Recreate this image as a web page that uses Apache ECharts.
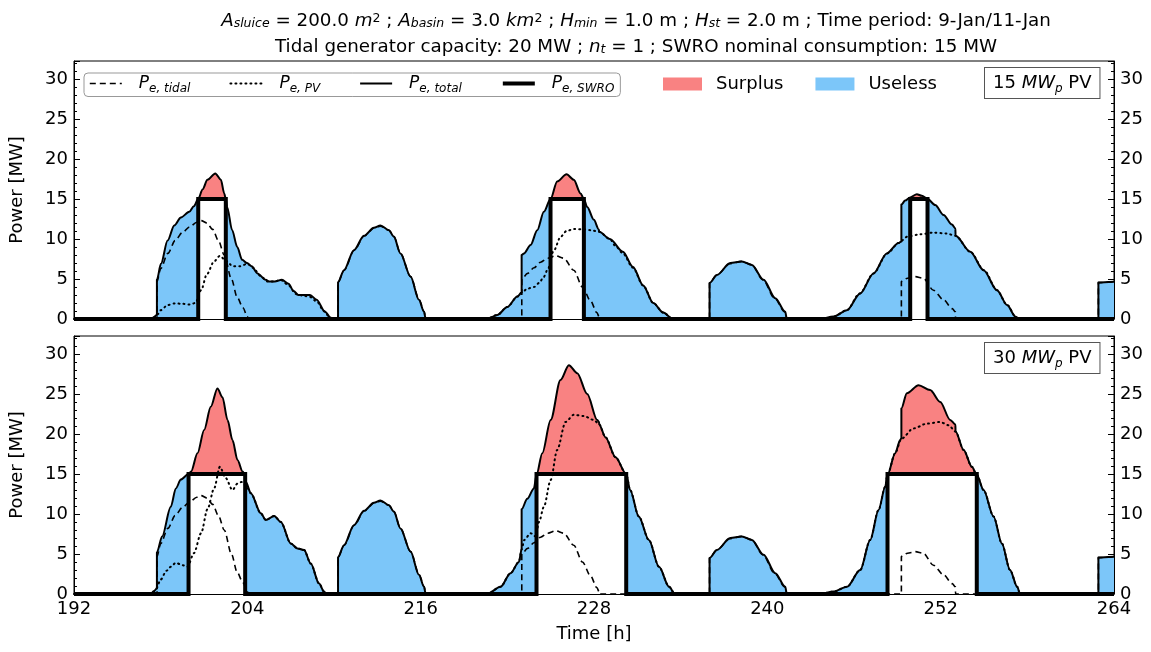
<!DOCTYPE html>
<html><head><meta charset="utf-8">
<script src="https://cdn.jsdelivr.net/npm/echarts@6/dist/echarts.min.js"></script>
<style>html,body{margin:0;padding:0;background:#fff}#c{width:1151px;height:652px}</style>
</head><body><div id="c"></div>
<script>
// ---------------- data ----------------
const xTicks = [192, 204, 216, 228, 240, 252, 264];
const swroPower = 15;
const tidal = [
[192,0],[197.75,0],[197.75,4.7],[198.0,6.3],[198.5,8.2],[199.0,9.8],[199.5,10.8],[200.0,11.5],[200.5,12.1],[200.8,12.3],[201.2,12.0],[201.6,11.2],[202.0,9.8],[202.4,8.0],[202.9,5.0],[203.3,2.7],[203.7,1.4],[204.0,0.3],[204.1,0],
[210.28,0],[210.28,4.6],[210.7,6.1],[211.4,8.6],[212.1,10.4],[212.8,11.4],[213.2,11.6],[213.8,11.1],[214.15,10.3],[214.6,8.2],[215.3,5.3],[215.9,2.4],[216.25,0.9],[216.35,0],
[223.0,0],[223.0,5.0],[223.4,5.7],[223.85,6.4],[224.3,7.1],[224.8,7.6],[225.35,7.9],[225.9,7.6],[226.6,6.1],[227.2,4.0],[227.75,2.3],[228.2,0.8],[228.35,0.3],[228.36,0],
[236.0,0],[236.0,4.5],[236.5,5.5],[237.4,6.9],[238.2,7.2],[238.9,6.8],[239.7,4.9],[240.5,2.6],[241.2,0.9],[241.35,0],
[249.28,0],[249.28,4.7],[249.7,5.1],[250.25,5.3],[250.8,5.1],[251.5,3.6],[252.2,2.4],[252.8,1.3],[253.02,0.9],[253.03,0],
[262.92,0],[262.92,4.55],[264,4.65]];
const pv15 = [
[192,0],[197.2,0],[197.5,0.2],[197.8,0.6],[198.0,1.1],[198.5,1.75],[199.0,1.95],[199.5,1.9],[200.0,1.8],[200.4,2.0],[200.8,3.6],[201.2,5.6],[201.7,7.2],[202.1,7.9],[202.5,7.3],[203.0,6.6],[203.5,6.6],[204.0,6.9],[204.4,6.4],[204.9,5.4],[205.4,4.7],[205.9,4.7],[206.3,4.9],[206.8,4.3],[207.4,3.1],[207.9,2.9],[208.3,2.8],[208.8,2.2],[209.3,1.0],[209.7,0.2],[210.0,0],
[220.5,0],[221.3,0.5],[222.0,1.5],[222.7,2.8],[223.0,3.3],[223.4,3.8],[223.85,4.0],[224.2,4.5],[224.5,5.2],[224.8,6.2],[225.2,8.5],[225.7,10.3],[226.1,11.0],[226.6,11.25],[227.3,11.2],[227.8,11.1],[228.35,10.9],[229.1,10.0],[229.5,9.1],[230.0,8.2],[230.7,6.4],[231.4,4.2],[232.1,2.0],[232.8,0.8],[233.4,0.1],[233.6,0],
[243.7,0],[244.6,0.3],[245.5,1.1],[246.4,3.2],[247.35,5.7],[248.3,8.2],[249.1,9.5],[249.28,9.8],[249.7,10.3],[250.6,10.6],[251.5,10.8],[252.4,10.7],[253.03,10.4],[254.05,8.4],[255.0,6.1],[255.9,3.6],[256.6,1.75],[257.2,0.3],[257.4,0],[264,0]];
const pv30 = [
[192,0],[197.2,0],[197.5,0.3],[197.7,0.7],[198.0,1.8],[198.4,2.9],[198.7,3.4],[199.05,3.9],[199.5,3.6],[199.86,3.4],[200.3,5.1],[200.8,7.6],[201.24,10.6],[201.7,13.2],[202.1,15.9],[202.5,14.5],[202.97,13.0],[203.32,13.8],[203.6,14.0],[203.9,13.6],[204.24,12.6],[204.93,10.1],[205.28,9.25],[205.86,9.75],[206.32,9.0],[207.01,6.3],[207.47,5.7],[207.93,5.5],[208.39,3.8],[208.97,1.3],[209.31,0.3],[209.5,0],
[220.6,0],[221.53,0.9],[222.22,2.6],[222.8,4.0],[223.0,5.6],[223.17,6.75],[223.61,7.6],[223.96,7.2],[224.19,9.0],[224.53,10.9],[225.0,14.25],[225.45,18.0],[226.03,21.5],[226.6,22.4],[227.3,22.25],[227.99,21.75],[228.36,21.2],[228.79,19.6],[229.49,17.1],[230.23,15.0],[230.5,13.0],[231.1,9.7],[231.8,6.75],[232.5,3.4],[233.2,0.9],[233.6,0],
[243.67,0],[244.59,0.3],[245.51,0.9],[246.43,3.0],[247.12,6.75],[247.7,10.5],[248.16,13.4],[248.32,14.9],[248.85,17.6],[249.28,19.4],[250.12,20.7],[251.05,21.3],[251.97,21.5],[252.55,21.1],[253.03,20.3],[253.59,18.0],[254.16,15.9],[254.5,14.9],[254.97,13.0],[255.66,9.7],[256.24,6.3],[256.8,3.0],[257.3,0.9],[257.5,0],[264,0]];
const total15 = [
[192,0],[197.3,0],[197.5,0.2],[197.74,0.5],[197.74,4.9],[198.02,6.9],[198.48,9.8],[198.94,11.7],[199.4,12.7],[199.98,13.4],[200.3,14.1],[200.6,15.0],[200.9,16.2],[201.24,17.4],[201.78,18.2],[202.17,17.4],[202.4,15.7],[202.51,15.0],[202.6,14.0],[202.95,11.1],[203.3,9.0],[203.64,7.4],[203.98,7.0],[204.3,6.6],[204.7,5.7],[205.27,4.9],[205.5,4.7],[205.9,4.7],[206.39,4.9],[206.85,4.4],[207.2,3.5],[207.53,3.0],[208.34,3.0],[208.8,2.4],[209.37,0.9],[209.84,0],
[210.28,0],[210.28,4.6],[210.69,6.1],[211.38,8.6],[212.07,10.4],[212.76,11.4],[213.22,11.7],[213.8,11.1],[214.14,10.3],[214.6,8.2],[215.3,5.3],[215.88,2.4],[216.23,0.9],[216.35,0],
[220.6,0],[221.3,0.5],[222.0,1.5],[222.69,2.8],[222.99,3.3],[222.99,8.0],[223.15,8.2],[223.61,9.25],[224.07,11.1],[224.53,13.4],[224.99,15.0],[225.45,17.2],[226.1,18.1],[226.6,17.4],[227.07,15.7],[227.3,15.0],[227.53,14.0],[227.99,12.4],[228.33,11.2],[228.36,10.9],[229.1,10.0],[230.0,8.4],[230.7,6.5],[231.4,4.2],[232.1,2.0],[232.8,0.8],[233.4,0.1],[233.6,0],
[236.0,0],[236.0,4.5],[236.51,5.5],[237.43,7.0],[238.24,7.2],[238.93,6.75],[239.74,4.9],[240.55,2.6],[241.24,0.9],[241.35,0],
[243.67,0],[244.59,0.3],[245.51,1.1],[246.43,3.2],[247.35,5.7],[248.27,8.2],[249.08,9.5],[249.28,9.7],[249.28,14.3],[249.54,14.8],[249.89,15.2],[250.35,15.6],[250.7,15.4],[251.09,15.0],[251.62,14.25],[252.2,13.0],[252.78,11.8],[253.02,11.3],[253.03,10.4],[254.05,8.4],[254.97,6.1],[255.9,3.6],[256.6,1.75],[257.17,0.3],[257.4,0],
[262.92,0],[262.92,4.55],[264,4.65]];
const total30 = [
[192,0],[197.3,0],[197.5,0.3],[197.74,0.7],[197.74,5.2],[198.1,7.2],[198.7,10.9],[199.05,13.2],[199.4,14.3],[199.93,15.0],[200.1,15.3],[200.55,17.6],[201.01,20.5],[201.47,23.4],[201.93,25.7],[202.28,24.6],[202.63,21.75],[202.97,19.25],[203.32,16.75],[203.67,15.3],[203.85,14.9],[203.9,14.0],[204.24,12.6],[204.93,10.1],[205.28,9.25],[205.86,9.75],[206.32,9.0],[207.01,6.3],[207.47,5.7],[207.93,5.5],[208.39,3.8],[208.97,1.3],[209.31,0.3],[209.5,0],
[210.28,0],[210.28,4.6],[210.69,6.1],[211.38,8.6],[212.07,10.4],[212.76,11.4],[213.22,11.7],[213.8,11.1],[214.14,10.3],[214.6,8.2],[215.3,5.3],[215.88,2.4],[216.23,0.9],[216.35,0],
[220.6,0],[221.53,0.9],[222.22,2.6],[222.8,4.0],[222.99,5.6],[222.99,10.6],[223.38,11.9],[223.84,13.2],[224.02,14.9],[224.42,17.6],[225.0,21.75],[225.68,26.75],[226.26,28.6],[226.84,27.6],[227.53,25.0],[228.22,21.75],[228.35,21.5],[228.36,21.2],[228.79,19.6],[229.49,17.1],[230.23,15.0],[230.5,13.0],[231.1,9.7],[231.8,6.75],[232.5,3.4],[233.2,0.9],[233.6,0],
[236.0,0],[236.0,4.5],[236.51,5.5],[237.43,7.0],[238.24,7.2],[238.93,6.75],[239.74,4.9],[240.55,2.6],[241.24,0.9],[241.35,0],
[243.67,0],[244.59,0.3],[245.51,0.9],[246.43,3.0],[247.12,6.75],[247.7,10.5],[248.16,13.4],[248.32,14.9],[248.85,17.6],[249.2,19.25],[249.28,19.5],[249.28,23.2],[249.66,25.1],[250.47,26.1],[251.27,25.5],[251.97,24.0],[252.66,21.75],[253.02,21.2],[253.03,20.3],[253.59,18.0],[254.16,15.9],[254.5,14.9],[254.97,13.0],[255.66,9.7],[256.24,6.3],[256.8,3.0],[257.3,0.9],[257.5,0],
[262.92,0],[262.92,4.55],[264,4.65]];
// SWRO operating windows [start, stop] in hours
const swroOn15 = [[200.6,202.51],[224.99,227.3],[249.89,251.09]];
const swroOn30 = [[199.93,203.85],[224.02,230.23],[248.32,254.5]];
const panelPV = ['15', '30'];

// ---------------- chart ----------------
const RED = '#f98282', BLUE = '#7cc6f9';
const FONT = 'DejaVu Sans';
const SMOOTH = 0.3;
const STYLE = {
  tidal: { color: '#000', width: 1.6, type: [6, 4] },
  PV: { color: '#000', width: 2, type: [1, 4], cap: 'round' },
  total: { color: '#000', width: 2, join: 'round' },
  SWRO: { color: '#000', width: 4, join: 'miter' }
};
function swroSteps(on) {
  const d = [[xTicks[0], 0]];
  on.forEach(([a, b]) => { d.push([a, 0], [a, swroPower], [b, swroPower], [b, 0]); });
  d.push([xTicks[xTicks.length - 1], 0]);
  return d;
}
function pieces(on) { return on.map(([a, b]) => ({ gte: a, lte: b, color: RED })); }

const GRID_TOP = [61, 336], GRID_H = 258;
const YMAX = 32.25;
function xAx(g) {
  return {
    type: 'value', gridIndex: g, min: xTicks[0], max: xTicks[xTicks.length - 1], interval: 12,
    axisLine: { show: true, onZero: false, lineStyle: { color: '#000', width: 1 } },
    axisTick: { show: true, inside: true, length: 6, lineStyle: { color: '#000' } },
    minorTick: { show: false },
    splitLine: { show: false },
    axisLabel: { show: g === 1, color: '#000', fontSize: 18, fontFamily: FONT, margin: 6 },
    name: g === 1 ? 'Time [h]' : '', nameLocation: 'middle', nameGap: 31,
    nameTextStyle: { color: '#000', fontSize: 18, fontFamily: FONT }
  };
}
function yAx(g, pos) {
  return {
    type: 'value', gridIndex: g, position: pos, min: 0, max: YMAX, interval: 5,
    axisLine: { show: true, onZero: false, lineStyle: { color: '#000', width: 1 } },
    axisTick: { show: true, inside: true, length: 6, lineStyle: { color: '#000' } },
    minorTick: { show: true, splitNumber: 5, length: 3, lineStyle: { color: '#000' } },
    splitLine: { show: false },
    axisLabel: { color: '#000', fontSize: 18, fontFamily: FONT, margin: 6,
      formatter: v => (Math.abs(v % 5) < 1e-6 && v <= 30) ? String(v) : '' },
    name: pos === 'left' ? 'Power [MW]' : '', nameLocation: 'middle', nameGap: 48,
    nameTextStyle: { color: '#000', fontSize: 18, fontFamily: FONT }
  };
}
function panelSeries(g, total, pv, on) {
  const xi = g, yi = g * 2;
  return [
    { type: 'line', xAxisIndex: xi, yAxisIndex: yi, data: total, symbol: 'none', z: 2, smooth: SMOOTH, smoothMonotone: 'x',
      lineStyle: STYLE.total, areaStyle: { opacity: 1 } },
    { type: 'line', xAxisIndex: xi, yAxisIndex: yi, data: swroSteps(on), symbol: 'none', z: 3,
      lineStyle: STYLE.SWRO, areaStyle: { color: '#fff', opacity: 1 } },
    { type: 'line', xAxisIndex: xi, yAxisIndex: yi, data: tidal, symbol: 'none', z: 4, smooth: SMOOTH, smoothMonotone: 'x',
      lineStyle: STYLE.tidal },
    { type: 'line', xAxisIndex: xi, yAxisIndex: yi, data: pv, symbol: 'none', z: 4, smooth: SMOOTH, smoothMonotone: 'x',
      lineStyle: STYLE.PV }
  ];
}
const legendNames = ['tidal', 'PV', 'total', 'SWRO'];
const legendLine = name => ({ name, type: 'line', xAxisIndex: 0, yAxisIndex: 0, data: [], symbol: 'none',
  itemStyle: { color: '#000', opacity: 0 }, lineStyle: STYLE[name] });
const series = [
  ...panelSeries(0, total15, pv15, swroOn15),
  ...panelSeries(1, total30, pv30, swroOn30),
  ...legendNames.map(legendLine),
  { name: 'Surplus', type: 'bar', xAxisIndex: 0, yAxisIndex: 0, data: [], itemStyle: { color: RED } },
  { name: 'Useless', type: 'bar', xAxisIndex: 0, yAxisIndex: 0, data: [], itemStyle: { color: BLUE } }
];

const TS = 18.3;
const titleRich = {
  i: { fontStyle: 'italic', fontSize: TS, fontFamily: FONT, fill: '#000' },
  sub: { fontStyle: 'italic', fontSize: 12.5, lineHeight: 12, verticalAlign: 'bottom', fontFamily: FONT, fill: '#000' },
  sup: { fontSize: 12.5, lineHeight: 12, verticalAlign: 'top', fontFamily: FONT, fill: '#000' },
  n: { fontSize: TS, fontFamily: FONT, fill: '#000' }
};
const line1 = '{i|A}{sub|sluice}{n| = 200.0 }{i|m}{sup|2}{n| ; }{i|A}{sub|basin}{n| = 3.0 }{i|km}{sup|2}{n| ; }{i|H}{sub|min}{n| = 1.0 m ; }{i|H}{sub|st}{n| = 2.0 m ; Time period: 9-Jan/11-Jan}';
const line2 = '{n|Tidal generator capacity: 20 MW ; }{i|n}{sub|t}{n| = 1 ; SWRO nominal consumption: 15 MW}';
function pvLabel(k, y) {
  return { type: 'text', x: 985, y: y, z: 100,
    style: { text: `{n|${panelPV[k]} }{i|MW}{s|p}{n| PV}`, fill: '#000',
      rich: { n: { fontSize: 18, fontFamily: FONT, lineHeight: 24 }, i: { fontSize: 18, fontStyle: 'italic', fontFamily: FONT, lineHeight: 24 },
              s: { fontSize: 12, fontStyle: 'italic', fontFamily: FONT, lineHeight: 12, verticalAlign: 'bottom' } },
      backgroundColor: '#fff', borderColor: '#555', borderWidth: 1, padding: [3, 8, 3, 8] } };
}

const option = {
  animation: false,
  backgroundColor: '#fff',
  grid: [
    { left: 73, right: 37, top: GRID_TOP[0], height: GRID_H, show: true, borderColor: '#000', borderWidth: 1, backgroundColor: 'transparent' },
    { left: 73, right: 37, top: GRID_TOP[1], height: GRID_H, show: true, borderColor: '#000', borderWidth: 1, backgroundColor: 'transparent' }
  ],
  xAxis: [xAx(0), xAx(1)],
  yAxis: [yAx(0, 'left'), yAx(0, 'right'), yAx(1, 'left'), yAx(1, 'right')],
  visualMap: [
    { type: 'piecewise', show: false, dimension: 0, seriesIndex: 0, pieces: pieces(swroOn15), outOfRange: { color: BLUE } },
    { type: 'piecewise', show: false, dimension: 0, seriesIndex: 4, pieces: pieces(swroOn30), outOfRange: { color: BLUE } }
  ],
  legend: [
    { data: legendNames.map(n => ({ name: n, lineStyle: { width: STYLE[n].width, type: STYLE[n].type || 'solid', color: '#000' } })),
      left: 84, top: 73, itemWidth: 32, itemHeight: 14, itemGap: 39,
      borderColor: '#999', borderWidth: 1, borderRadius: 4, padding: [2, 6, 2, 5], backgroundColor: '#fff',
      itemStyle: { opacity: 0 },
      formatter: n => `{i|P}{s|e, ${n}}`,
      textStyle: { padding: [0, 0, 0, 12], rich: {
        i: { fontStyle: 'italic', fontSize: 17, fontFamily: FONT, color: '#000', lineHeight: 22 },
        s: { fontStyle: 'italic', fontSize: 12, fontFamily: FONT, color: '#000', lineHeight: 12, verticalAlign: 'bottom' } } } },
    { data: ['Surplus', 'Useless'], left: 663, top: 75, icon: 'rect', itemWidth: 39, itemHeight: 13, itemGap: 32, padding: 0,
      textStyle: { fontSize: 18, fontFamily: FONT, color: '#000', padding: [0, 0, 0, 9] } }
  ],
  graphic: [
    { type: 'text', x: 636, y: 12, style: { text: line1, rich: titleRich, align: 'center', fill: '#000', fontSize: TS, fontFamily: FONT } },
    { type: 'text', x: 636, y: 38, style: { text: line2, rich: titleRich, align: 'center', fill: '#000', fontSize: TS, fontFamily: FONT } },
    pvLabel(0, 68), pvLabel(1, 343)
  ],
  series: series
};
const chart = echarts.init(document.getElementById('c'), null, { renderer: 'canvas' });
chart.setOption(option);
</script></body></html>
